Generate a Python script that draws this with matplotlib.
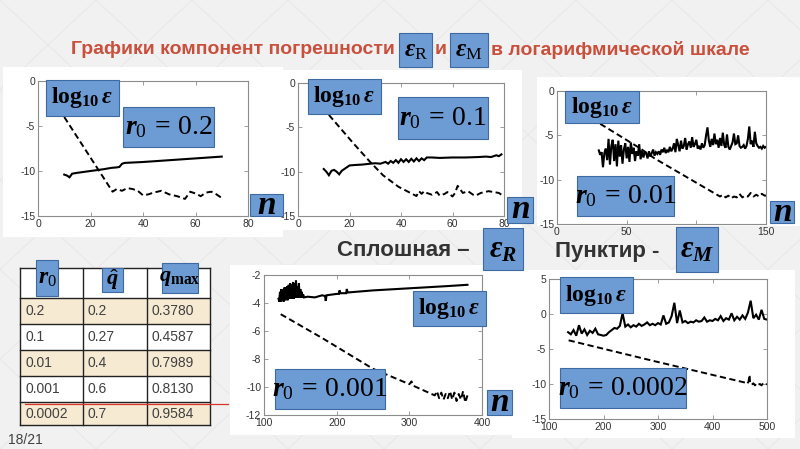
import matplotlib
matplotlib.use("Agg")
import matplotlib.pyplot as plt
from matplotlib.patches import Rectangle
from matplotlib.lines import Line2D

plt.rcParams['mathtext.fontset'] = 'custom'
plt.rcParams['mathtext.rm'] = 'Liberation Serif'
plt.rcParams['mathtext.it'] = 'Liberation Serif:italic:bold'
plt.rcParams['mathtext.bf'] = 'Liberation Serif:bold'
plt.rcParams['font.family'] = ['Liberation Sans', 'DejaVu Sans']
plt.rcParams['axes.unicode_minus'] = False

# ---------------- data ----------------
p1_solid_n = [10, 11, 12, 13, 15, 20, 25, 28, 30, 31, 32, 33, 40, 50, 60, 70]
p1_solid_y = [-10.4, -10.5, -10.7, -10.3, -10.2, -10.0, -9.8, -9.65, -9.6, -9.55, -9.2, -9.1, -9.0, -8.8, -8.6, -8.4]
p1_dash_n = [10, 28.4, 30, 32, 34, 36, 38, 40, 42, 44, 47, 50, 53, 56, 58, 60, 62, 64, 66, 68, 70]
p1_dash_y = [-4.0, -12.3, -12.0, -12.2, -11.9, -12.0, -12.2, -12.7, -12.6, -12.4, -12.2, -12.6, -12.8, -13.1, -12.3, -12.5, -12.8, -12.4, -12.3, -12.6, -13.0]

p2_solid_n = [10, 11, 12, 13, 14, 15, 16, 17, 18, 20, 22, 25, 28, 30, 32, 34, 35, 36, 37, 38, 39, 40, 41, 42, 43, 44,
              45, 46, 47, 48, 49, 50, 52, 55, 60, 65, 70, 73, 75, 77, 78, 79]
p2_solid_y = [-9.7, -10.0, -10.4, -9.9, -9.8, -10.0, -10.3, -9.9, -9.7, -9.3, -9.25, -9.2, -9.1, -9.05, -9.1, -8.9, -9.1,
              -8.8, -9.0, -8.7, -9.0, -8.6, -8.9, -8.6, -8.9, -8.55, -8.85, -8.5, -8.8, -8.5, -8.7, -8.4, -8.4, -8.45,
              -8.4, -8.4, -8.35, -8.3, -8.35, -8.15, -8.25, -8.05]
p2_dash_n = [12, 21.5, 28, 33, 39, 41, 43, 46, 47, 48, 49, 50, 52, 54, 55, 57, 58, 60, 61, 62, 63, 64, 66, 68, 69, 71, 74, 76, 78, 79]
p2_dash_y = [-3.6, -6.8, -8.9, -10.4, -11.7, -12.0, -12.3, -12.75, -12.2, -12.5, -12.2, -12.4, -12.6, -12.3, -12.7, -12.5,
             -12.3, -12.8, -12.4, -11.6, -12.0, -12.4, -12.2, -12.6, -12.7, -12.4, -12.2, -12.3, -12.4, -12.6]

p3_solid_n = list(range(30, 151))
p3_solid_y = [-6.7, -7.2, -6.9, -8.6, -7.0, -6.5, -7.8, -5.4, -8.3, -6.2, -5.5, -7.9, -6.0, -8.5, -5.6, -7.4, -6.1, -8.2,
              -6.6, -5.9, -7.6, -6.3, -8.0, -5.8, -7.1, -6.4, -7.9, -6.8, -7.3, -6.0, -7.7, -6.7, -7.5, -6.9, -7.0, -7.6,
              -6.8, -7.4, -7.0, -6.6, -7.3, -6.9, -7.1, -6.8, -7.2, -6.6, -6.9, -6.4, -7.0, -6.7, -6.9, -6.3, -6.8, -6.5,
              -5.9, -6.9, -5.4, -6.1, -6.8, -5.6, -6.5, -6.2, -5.3, -6.6, -6.0, -5.7, -6.4, -5.2, -6.3, -6.0, -5.5, -6.5,
              -6.2, -6.6, -5.9, -6.4, -6.1, -5.0, -4.1, -5.6, -6.3, -5.4, -6.1, -4.8, -6.0, -5.5, -6.4, -5.3, -6.2, -4.7,
              -6.1, -6.4, -4.9, -6.3, -6.6, -6.2, -5.8, -4.8, -6.0, -5.9, -5.0, -6.2, -6.4, -6.3, -6.1, -6.5, -6.2, -5.4,
              -4.0, -6.0, -5.6, -6.3, -4.6, -5.9, -6.2, -6.4, -6.3, -6.5, -6.2, -6.4, -6.3]
p3_dash_n = [31, 60, 70, 117, 119, 121, 123, 125, 127, 129, 131, 133, 135, 137, 139, 141, 143, 145, 147, 149, 150]
p3_dash_y = [-3.7, -6.5, -7.6, -11.9, -11.7, -12.0, -11.8, -12.1, -11.9, -12.0, -11.6, -12.0, -11.8, -11.9, -11.5,
             -11.9, -11.7, -11.9, -11.6, -11.8, -11.8]

p4_solid_n = list(range(120, 156)) + [160, 170, 180, 184, 185, 186, 200, 203, 204, 205, 213, 214, 215, 250, 300, 350, 380]
p4_solid_y = [-3.7, -3.9, -3.2, -3.9, -3.0, -3.8, -3.1, -3.9, -2.9, -3.8, -2.9, -3.8, -2.8, -3.8, -2.7, -3.7, -2.6, -3.7,
              -2.7, -3.7, -2.5, -3.7, -2.6, -3.6, -2.4, -3.6, -2.8, -3.6, -2.6, -3.6, -3.0, -3.6, -3.2, -3.6, -3.4, -3.6,
              -3.55, -3.6, -3.45, -3.5, -3.85, -3.45, -3.35, -3.35, -3.1, -3.3, -3.3, -3.0, -3.25, -3.1, -2.95, -2.8, -2.7]
p4_dash_n = [123, 180, 250, 300, 303, 305, 335, 338, 341, 344, 347, 350, 353, 356, 359, 362, 365, 368, 371, 374, 377, 380]
p4_dash_y = [-4.8, -6.5, -8.7, -9.8, -9.6, -9.9, -10.6, -10.3, -10.8, -10.4, -10.9, -10.5, -10.8, -10.3, -10.9, -10.4,
             -11.0, -10.5, -10.9, -10.3, -11.1, -10.6]

p5_solid_n = list(range(135, 501, 5))
p5_solid_y = [-2.6, -2.9, -2.3, -3.1, -1.6, -2.8, -2.2, -3.0, -2.4, -2.7, -2.1, -2.9, -3.0, -3.1, -3.0, -2.6, -2.3, -2.0,
              -2.1, -1.7, 0.1, -1.8, -1.5, -1.9, -1.6, -1.8, -1.4, -1.7, -1.5, -1.2, -1.6, -1.4, -1.6, -1.3, -1.5, -0.2,
              -1.4, -1.2, -0.3, 1.6, -1.3, 0.5, -1.2, -1.0, -1.3, -1.1, -1.2, -0.9, -1.1, -1.0, -0.5, -1.1, -0.9, -1.0,
              -0.7, -0.9, -0.3, -1.0, -0.6, -0.8, 0.1, -0.9, -0.4, -0.8, -0.2, -0.7, 0.2, 1.9, -0.6, -0.1, -0.8, 0.6,
              -0.7, -0.8]
p5_dash_n = [136, 294.5, 460, 463, 466, 468, 469, 472, 475, 478, 481, 484, 487, 490, 493, 496, 500]
p5_dash_y = [-3.76, -6.76, -9.8, -10.0, -9.7, -8.7, -9.9, -10.1, -9.9, -10.2, -9.9, -10.1, -10.0, -10.2, -9.9, -10.1, -10.0]

table_r0 = ['0.2', '0.1', '0.01', '0.001', '0.0002']
table_qhat = ['0.2', '0.27', '0.4', '0.6', '0.7']
table_qmax = ['0.3780', '0.4587', '0.7989', '0.8130', '0.9584']

r0_labels = ['0.2', '0.1', '0.01', '0.001', '0.0002']

# ---------------- figure helpers ----------------
W, H = 800, 449
fig = plt.figure(figsize=(8, 4.49), dpi=100)
fig.patch.set_facecolor('#f1f1f1')

BLUE = '#6d9bd3'
BLUE_EDGE = '#3d6aa3'


def frect(x0, y0, x1, y1):
    return [x0 / W, 1 - y1 / H, (x1 - x0) / W, (y1 - y0) / H]


def rect(x0, y0, x1, y1, fc, ec='none', lw=0.8, z=-1):
    fig.add_artist(Rectangle((x0 / W, 1 - y1 / H), (x1 - x0) / W, (y1 - y0) / H,
                             transform=fig.transFigure, facecolor=fc, edgecolor=ec, linewidth=lw, zorder=z))


def box(x0, y0, x1, y1, txt, size, dx=0.0):
    rect(x0, y0, x1, y1, BLUE, BLUE_EDGE, 0.8, z=5)
    fig.text(((x0 + x1) / 2 + dx) / W, 1 - ((y0 + y1) / 2) / H, txt, ha='center', va='center',
             fontsize=size, color='black', zorder=6)


def text(x, y, s, **kw):
    fig.text(x / W, 1 - y / H, s, **kw)


# background faint diagonal lines
for k in range(-6, 14):
    fig.add_artist(Line2D([k * 0.12, k * 0.12 + 0.6], [0, 1], transform=fig.transFigure,
                          color='#e6e6e6', lw=0.6, zorder=-2))
    fig.add_artist(Line2D([k * 0.12, k * 0.12 - 0.6], [0, 1], transform=fig.transFigure,
                          color='#e6e6e6', lw=0.6, zorder=-2))

# white panel backgrounds
rect(3, 67, 283, 237, 'white')
rect(278, 70, 522, 230, 'white')
rect(537, 77, 800, 226, 'white')
rect(230, 265, 512, 435, 'white')
rect(512, 270, 795, 438, 'white')


def style(ax, xlim, ylim, xt, yt, xtl=None):
    ax.set_xlim(*xlim)
    ax.set_ylim(*ylim)
    ax.set_xticks(xt)
    if xtl is not None:
        ax.set_xticklabels(xtl)
    ax.set_yticks(yt)
    ax.set_facecolor('white')
    for s in ax.spines.values():
        s.set_color('#8c8c8c')
        s.set_linewidth(0.8)
    ax.tick_params(direction='in', length=3, width=0.6, color='#8c8c8c', labelsize=7.5,
                   labelcolor='#333333', top=True, right=True, pad=2)


def panel(rectpx, sn, sy, dn, dy, xlim, ylim, xt, yt, xtl=None):
    ax = fig.add_axes(frect(*rectpx))
    ax.plot(sn, sy, color='black', lw=1.5, solid_joinstyle='miter')
    ax.plot(dn, dy, color='black', lw=1.4, dashes=(3.2, 1.8))
    style(ax, xlim, ylim, xt, yt, xtl)
    return ax


panel((38, 81, 248, 216), p1_solid_n, p1_solid_y, p1_dash_n, p1_dash_y, (0, 80), (-15, 0),
      [0, 20, 40, 60, 80], [0, -5, -10, -15])
panel((298, 83, 504, 216), p2_solid_n, p2_solid_y, p2_dash_n, p2_dash_y, (0, 80), (-15, 0),
      [0, 20, 40, 60, 80], [0, -5, -10, -15])
# the "100" label is hidden behind the eps_M box in the reference
panel((557, 91, 766, 224), p3_solid_n, p3_solid_y, p3_dash_n, p3_dash_y, (0, 150), (-15, 0),
      [0, 50, 100, 150], [0, -5, -10, -15], ['0', '50', '', '150'])
panel((264, 275, 482, 415), p4_solid_n, p4_solid_y, p4_dash_n, p4_dash_y, (100, 400), (-12, -2),
      [100, 200, 300, 400], [-2, -4, -6, -8, -10, -12])
panel((549, 279, 767, 419), p5_solid_n, p5_solid_y, p5_dash_n, p5_dash_y, (100, 500), (-15, 5),
      [100, 200, 300, 400, 500], [5, 0, -5, -10, -15])

LOG = r'$\mathbf{log}_{\mathbf{10}}\,ε$'
N = r'$n$'


def r0txt(v):
    return r'$r_{0}\,\mathbf{=}\,' + v + '$'


# panel 1 boxes
box(46, 80, 119, 116, LOG, 17)
box(123, 107, 214, 147, r0txt(r0_labels[0]), 20)
box(250, 194, 283, 216, N, 24)
# panel 2 boxes
box(308, 79, 381, 114, LOG, 17)
box(398, 97, 488, 139, r0txt(r0_labels[1]), 20)
box(507, 197, 533, 223, N, 24)
# panel 3 boxes
box(565, 91, 639, 123, LOG, 17)
box(577, 176, 674, 216, r0txt(r0_labels[2]), 20)
box(770, 201, 794, 223, N, 24)
# panel 4 boxes
box(413, 291, 486, 326, LOG, 17)
box(275, 369, 385, 409, r0txt(r0_labels[3]), 20)
box(487, 390, 512, 415, N, 24)
# panel 5 boxes
box(560, 277, 633, 313, LOG, 17)
box(560, 368, 686, 408, r0txt(r0_labels[4]), 20)

# legend-like captions
text(337, 251, 'Сплошная –', fontsize=16, fontweight='bold', color='#333333', ha='left', va='center')
box(483, 228, 523, 270, r'$ε_{R}$', 22)
text(555, 251, 'Пунктир -', fontsize=16, fontweight='bold', color='#333333', ha='left', va='center')
box(676, 227, 718, 272, r'$ε_{M}$', 22)

# title
TITLE_RED = '#c9503c'
tfam = ['Liberation Sans Narrow', 'Liberation Sans', 'DejaVu Sans']
text(395, 50, 'Графики компонент погрешности', fontsize=14, fontweight='bold', color=TITLE_RED,
     ha='right', va='center', family=tfam)
box(399, 33, 432, 67, r'$ε_{\mathrm{R}}$', 18)
text(441, 50, 'и', fontsize=14, fontweight='bold', color=TITLE_RED, ha='center', va='center', family=tfam)
box(450, 33, 488, 67, r'$ε_{\mathrm{M}}$', 18)
text(491, 50, 'в логарифмической шкале', fontsize=14, fontweight='bold', color=TITLE_RED,
     ha='left', va='center', family=tfam)

# table
col_x = [20, 83, 147, 210]
row_y = [268, 298, 324, 350, 376, 402, 425]
fills = ['white', '#f7ead3', 'white', '#f7ead3', 'white', '#f7ead3']
for i in range(6):
    rect(col_x[0], row_y[i], col_x[3], row_y[i + 1], fills[i], z=1)
for x in col_x:
    fig.add_artist(Line2D([x / W, x / W], [1 - row_y[0] / H, 1 - row_y[-1] / H], transform=fig.transFigure,
                          color='#222222', lw=1.0, zorder=2))
for y in row_y:
    fig.add_artist(Line2D([col_x[0] / W, col_x[3] / W], [1 - y / H, 1 - y / H], transform=fig.transFigure,
                          color='#222222', lw=1.0, zorder=2))
cols = [table_r0, table_qhat, table_qmax]
for c in range(3):
    for r in range(5):
        text(col_x[c] + 5, (row_y[r + 1] + row_y[r + 2]) / 2, cols[c][r], fontsize=10, color='#404040',
             ha='left', va='center', zorder=3)
box(36, 260, 58, 296, r'$r_{0}$', 17)
box(102, 268, 123, 292, r'$\hat{q}$', 16)
box(162, 263, 198, 293, r'$q_{\mathbf{max}}$', 16)

# red line
fig.add_artist(Line2D([25 / W, 228 / W], [1 - 404 / H, 1 - 404 / H], transform=fig.transFigure,
                      color='#d9342b', lw=0.9, zorder=4))

# page number
text(8, 440, '18/21', fontsize=10, color='#404040', ha='left', va='center')

fig.savefig('out.png', dpi=100, facecolor=fig.get_facecolor())
